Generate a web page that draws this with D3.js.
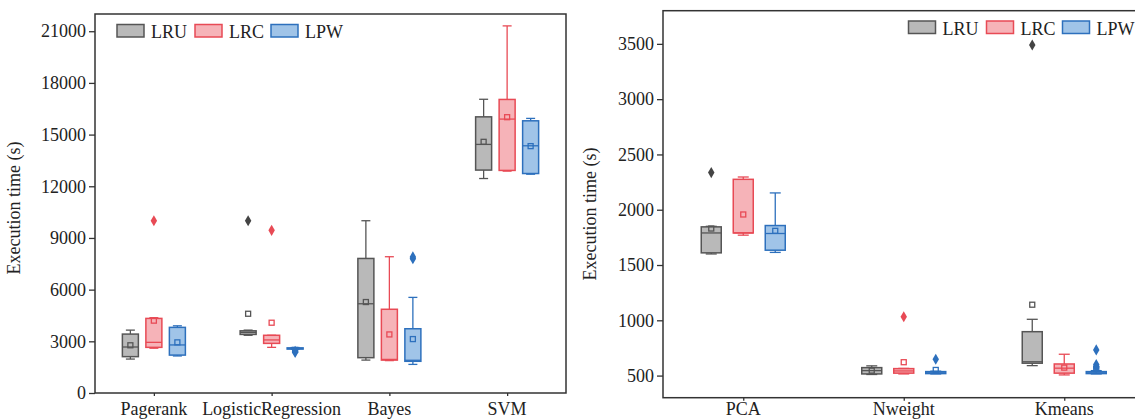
<!DOCTYPE html>
<html>
<head>
<meta charset="utf-8">
<script src="https://cdn.jsdelivr.net/npm/d3@7"></script>
<style>
  body { margin: 0; background: #fff; }
  svg { display: block; font-family: "Liberation Serif", "Times New Roman", serif; }
</style>
</head>
<body>
<div id="visContainer"></div>
<script>
'use strict';

var METHODS = ["LRU", "LRC", "LPW"];

// left panel
var LEFT_CATEGORIES = ["Pagerank", "LogisticRegression", "Bayes", "SVM"];
var LEFT_TICKS = [0, 3000, 6000, 9000, 12000, 15000, 18000, 21000];
// each box: [whisker low, q1, median, q3, whisker high, mean]
var LEFT_LRU = [
    [1970, 2110, 2670, 3420, 3650, 2770],
    [3350, 3400, 3520, 3610, 3650, 4600],
    [1910, 2050, 5180, 7810, 10000, 5280],
    [12450, 12940, 14430, 16030, 17050, 14580]
];
var LEFT_LRC = [
    [2600, 2650, 2940, 4330, 4370, 4200],
    [2650, 2880, 3080, 3350, 3350, 4080],
    [1880, 1910, 1950, 4860, 7910, 3400],
    [12880, 12920, 15900, 17040, 21310, 16010]
];
var LEFT_LPW = [
    [2150, 2200, 2790, 3810, 3900, 2940],
    [2540, 2550, 2580, 2620, 2640, 2500],
    [1660, 1840, 1900, 3730, 5550, 3130],
    [12700, 12740, 14350, 15800, 15940, 14330]
];
var LEFT_LRU_OUT = [[], [10000], [], []];
var LEFT_LRC_OUT = [[10000], [9440], [], []];
var LEFT_LPW_OUT = [[], [2350, 2420], [7800, 7900], []];

// right panel
var RIGHT_CATEGORIES = ["PCA", "Nweight", "Kmeans"];
var RIGHT_TICKS = [500, 1000, 1500, 2000, 2500, 3000, 3500];
var RIGHT_LRU = [
    [1600, 1610, 1790, 1845, 1850, 1830],
    [510, 515, 545, 572, 588, 545],
    [590, 612, 625, 897, 1009, 1141]
];
var RIGHT_LRC = [
    [1770, 1790, 1790, 2275, 2296, 1957],
    [515, 522, 542, 563, 565, 621],
    [506, 522, 567, 605, 693, 572]
];
var RIGHT_LPW = [
    [1614, 1634, 1785, 1857, 2152, 1809],
    [515, 518, 525, 536, 540, 551],
    [515, 518, 525, 536, 545, 560]
];
var RIGHT_LRU_OUT = [[2336], [], [3490]];
var RIGHT_LRC_OUT = [[], [1032], []];
var RIGHT_LPW_OUT = [[], [648], [732, 600, 585, 570]];

var FILL = { LRU: "#b9b9b9", LRC: "#f6b3b8", LPW: "#a0c4e8" };
var STROKE = { LRU: "#555555", LRC: "#e84a55", LPW: "#2d70bd" };
var AXIS_COLOR = "#333";
var FONT = "'Liberation Serif', 'Times New Roman', serif";

var svg = d3.select("#visContainer")
    .append("svg")
    .attr("width", 1135)
    .attr("height", 419);

function draw_panel(opts) {
    var y = d3.scaleLinear()
        .domain(opts.yDomain)
        .range([opts.bottom, opts.top]);

    var x0 = d3.scalePoint()
        .domain(opts.categories)
        .range([opts.left, opts.right])
        .padding(0.5);

    var x1 = d3.scalePoint()
        .domain(METHODS)
        .range([-opts.step, opts.step]);

    var g = svg.append("g");

    // frame
    g.append("rect")
        .attr("x", opts.left)
        .attr("y", opts.top)
        .attr("width", opts.right - opts.left)
        .attr("height", opts.bottom - opts.top)
        .attr("fill", "none")
        .attr("stroke", AXIS_COLOR)
        .attr("stroke-width", 1.5);

    var yAxis = g.append("g")
        .attr("transform", "translate(" + opts.left + ",0)")
        .call(d3.axisLeft(y).tickValues(opts.ticks).tickSize(6).tickPadding(3).tickFormat(d3.format("d")))
        .attr("font-family", FONT)
        .attr("font-size", 18);
    yAxis.select(".domain").remove();
    yAxis.selectAll("line").attr("stroke", AXIS_COLOR).attr("stroke-width", 1.3);
    yAxis.selectAll("text").attr("fill", "#222");

    var xAxis = g.append("g")
        .attr("transform", "translate(0," + opts.bottom + ")")
        .call(d3.axisBottom(x0).tickSize(3).tickPadding(6));
    xAxis.select(".domain").remove();
    xAxis.selectAll("line").attr("stroke", AXIS_COLOR).attr("stroke-width", 1.3);
    xAxis.selectAll("text").remove();

    g.selectAll(".catLabel")
        .data(opts.categories)
        .enter().append("text")
        .attr("class", "catLabel")
        .attr("x", function(d) { return x0(d); })
        .attr("y", 415)
        .attr("text-anchor", "middle")
        .attr("fill", "#222")
        .style("font-size", "18px")
        .text(function(d) { return d; });

    g.append("text")
        .attr("transform", "translate(" + opts.titleX + "," + opts.titleY + ") rotate(-90)")
        .attr("text-anchor", "middle")
        .attr("fill", "#222")
        .style("font-size", "18px")
        .text("Execution time (s)");

    // boxes
    for (var m = 0; m < METHODS.length; m++) {
        var method = METHODS[m];
        var stats = opts.stats[m];
        var outs = opts.outliers[m];
        for (var i = 0; i < opts.categories.length; i++) {
            var s = stats[i];
            var cx = x0(opts.categories[i]) + x1(method);
            var bw = opts.boxWidth;
            var cap = opts.capWidth;
            var bg = g.append("g");

            bg.append("line")
                .attr("x1", cx).attr("x2", cx)
                .attr("y1", y(s[0])).attr("y2", y(s[1]))
                .attr("stroke", STROKE[method]).attr("stroke-width", 1.3);
            bg.append("line")
                .attr("x1", cx).attr("x2", cx)
                .attr("y1", y(s[3])).attr("y2", y(s[4]))
                .attr("stroke", STROKE[method]).attr("stroke-width", 1.3);
            bg.append("line")
                .attr("x1", cx - cap / 2).attr("x2", cx + cap / 2)
                .attr("y1", y(s[0])).attr("y2", y(s[0]))
                .attr("stroke", STROKE[method]).attr("stroke-width", 1.3);
            bg.append("line")
                .attr("x1", cx - cap / 2).attr("x2", cx + cap / 2)
                .attr("y1", y(s[4])).attr("y2", y(s[4]))
                .attr("stroke", STROKE[method]).attr("stroke-width", 1.3);
            bg.append("rect")
                .attr("x", cx - bw / 2)
                .attr("y", y(s[3]))
                .attr("width", bw)
                .attr("height", Math.max(y(s[1]) - y(s[3]), 1))
                .attr("fill", FILL[method])
                .attr("stroke", STROKE[method])
                .attr("stroke-width", 1.5);
            bg.append("line")
                .attr("x1", cx - bw / 2).attr("x2", cx + bw / 2)
                .attr("y1", y(s[2])).attr("y2", y(s[2]))
                .attr("stroke", STROKE[method]).attr("stroke-width", 1.3);
            bg.append("rect")
                .attr("x", cx - 2.5)
                .attr("y", y(s[5]) - 2.5)
                .attr("width", 5)
                .attr("height", 5)
                .attr("fill", "none")
                .attr("stroke", STROKE[method])
                .attr("stroke-width", 1.3);

            bg.selectAll(".outlier")
                .data(outs[i])
                .enter().append("path")
                .attr("class", "outlier")
                .attr("d", d3.symbol().type(d3.symbolDiamond).size(36))
                .attr("transform", function(d) { return "translate(" + cx + "," + y(d) + ")"; })
                .attr("fill", method == "LRU" ? "#444" : STROKE[method]);
        }
    }

    // legend
    var lg = g.append("g")
        .attr("transform", "translate(" + opts.legendX + "," + opts.legendY + ")");
    var legendOffsets = [0, 78, 154];
    for (var k = 0; k < METHODS.length; k++) {
        lg.append("rect")
            .attr("x", legendOffsets[k])
            .attr("y", 0)
            .attr("width", 27)
            .attr("height", 12.5)
            .attr("fill", FILL[METHODS[k]])
            .attr("stroke", STROKE[METHODS[k]])
            .attr("stroke-width", 1.5);
        lg.append("text")
            .attr("x", legendOffsets[k] + 34)
            .attr("y", 13.5)
            .attr("fill", "#222")
            .style("font-size", "18px")
            .text(METHODS[k]);
    }
}

draw_panel({
    categories: LEFT_CATEGORIES,
    ticks: LEFT_TICKS,
    stats: [LEFT_LRU, LEFT_LRC, LEFT_LPW],
    outliers: [LEFT_LRU_OUT, LEFT_LRC_OUT, LEFT_LPW_OUT],
    yDomain: [0, 22000],
    left: 95, right: 566, top: 14, bottom: 393,
    step: 23.5, boxWidth: 16, capWidth: 9,
    titleX: 20, titleY: 208,
    legendX: 117, legendY: 24.5
});

draw_panel({
    categories: RIGHT_CATEGORIES,
    ticks: RIGHT_TICKS,
    stats: [RIGHT_LRU, RIGHT_LRC, RIGHT_LPW],
    outliers: [RIGHT_LRU_OUT, RIGHT_LRC_OUT, RIGHT_LPW_OUT],
    yDomain: [300, 3800],
    left: 663, right: 1144.5, top: 10.7, bottom: 397.7,
    step: 32, boxWidth: 20, capWidth: 11,
    titleX: 596, titleY: 214,
    legendX: 908.5, legendY: 21
});
</script>
</body>
</html>
